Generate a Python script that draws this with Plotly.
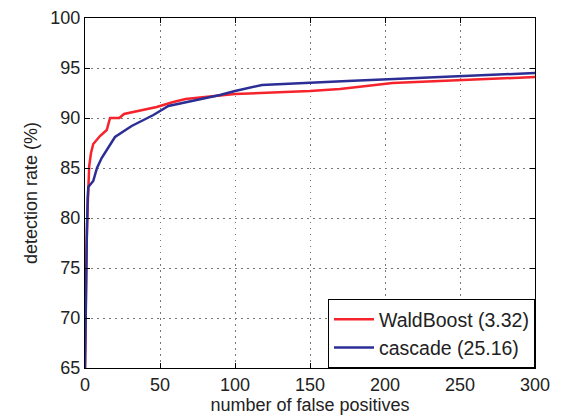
import plotly.graph_objects as go

wald_x = [0, 0.3, 1.0, 1.5, 2.0, 2.8, 4.0, 5.5, 10, 14.5, 16.7, 22.9, 26, 35, 47.8, 58.9, 67, 80, 100, 150, 170, 205, 300]
wald_y = [65, 72, 77, 80, 83, 85.2, 86.5, 87.4, 88.2, 88.8, 90.0, 90.0, 90.4, 90.7, 91.1, 91.6, 91.9, 92.1, 92.4, 92.7, 92.9, 93.5, 94.1]
casc_x = [0, 0.5, 1.2, 1.8, 2.2, 5.5, 8, 11.1, 20, 31.1, 45.6, 55.6, 74.4, 90, 100, 118, 175, 220, 300]
casc_y = [65, 74, 78, 82, 83.1, 83.7, 85.0, 86.0, 88.1, 89.2, 90.3, 91.2, 91.8, 92.3, 92.7, 93.3, 93.7, 94.0, 94.5]
x_ticks = [0, 50, 100, 150, 200, 250, 300]
y_ticks = [65, 70, 75, 80, 85, 90, 95, 100]

fig = go.Figure()
fig.add_trace(go.Scatter(x=wald_x, y=wald_y, mode="lines", name="WaldBoost (3.32)",
                         line=dict(color="#f5232b", width=2.5)))
fig.add_trace(go.Scatter(x=casc_x, y=casc_y, mode="lines", name="cascade (25.16)",
                         line=dict(color="#2b2e94", width=2.5)))

axis_common = dict(showline=True, linecolor="black", linewidth=1, mirror="ticks",
                   ticks="inside", ticklen=5, tickcolor="black",
                   showgrid=True, gridcolor="#777777", griddash="1.5px,4.5px", gridwidth=1,
                   zeroline=False, automargin=False,
                   tickfont=dict(size=18, color="#222222"))

fig.update_layout(
    width=562, height=417,
    margin=dict(l=85, r=27, t=18, b=49),
    paper_bgcolor="white", plot_bgcolor="white",
    font=dict(family="Liberation Sans, Arial, sans-serif", color="#222222"),
    xaxis=dict(range=[0, 300], tickvals=x_ticks,
               title=dict(text="number of false positives", font=dict(size=18), standoff=0),
               **axis_common),
    yaxis=dict(range=[65, 100], tickvals=y_ticks,
               title=dict(text="detection rate (%)", font=dict(size=18), standoff=8),
               **axis_common),
    legend=dict(x=1, y=0, xanchor="right", yanchor="bottom",
                bordercolor="black", borderwidth=1, bgcolor="white",
                font=dict(size=19.5, color="#222222"), itemwidth=40,
                tracegroupgap=0),
    showlegend=True,
)
fig.write_html("out.html", config={"displayModeBar": False},
               post_script="document.body.style.margin='0';document.body.style.overflow='hidden';")
